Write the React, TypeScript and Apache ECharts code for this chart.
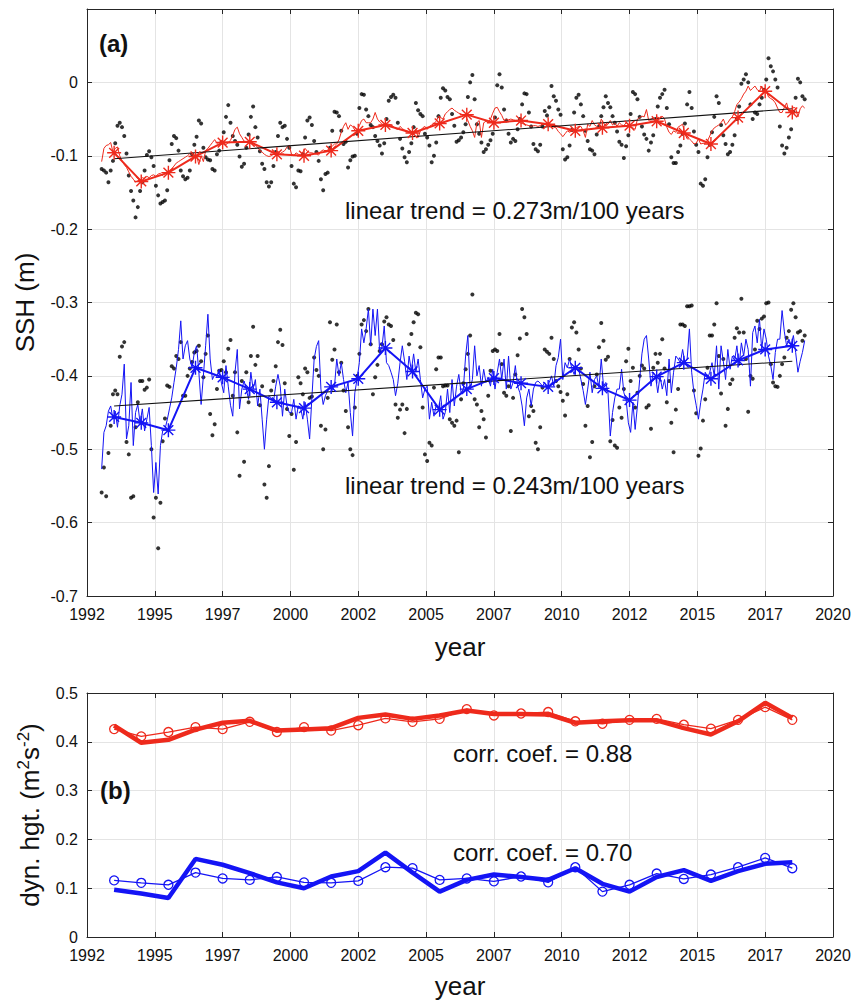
import React, { useEffect, useRef } from "react";
import * as echarts from "echarts";

// ---------- data ----------
const X0 = 1992; // x axis origin (year)
const MONTH_START = 1992.54; // time of first monthly value
const xTickLabels = ["1992", "1995", "1997", "2000", "2002", "2005", "2007", "2010", "2012", "2015", "2017", "2020"];
const annualYears = [1993, 1994, 1995, 1996, 1997, 1998, 1999, 2000, 2001, 2002, 2003, 2004, 2005, 2006, 2007, 2008, 2009, 2010, 2011, 2012, 2013, 2014, 2015, 2016, 2017, 2018];

// (a) upper: monthly dots (black) and monthly thin red line
const redMonthlyDots = [
  -0.118, -0.12, -0.123, -0.136, -0.12, -0.107, -0.083, -0.059, -0.055, -0.061, -0.073, -0.097,
  -0.127, -0.148, -0.161, -0.184, -0.17, -0.148, -0.136, -0.12, -0.099, -0.094, -0.102, -0.114,
  -0.141, -0.154, -0.165, -0.163, -0.161, -0.147, -0.106, -0.084, -0.073, -0.076, -0.093, -0.12,
  -0.128, -0.132, -0.13, -0.12, -0.098, -0.085, -0.074, -0.052, -0.056, -0.089, -0.102, -0.105,
  -0.106, -0.118, -0.12, -0.098, -0.093, -0.082, -0.068, -0.047, -0.031, -0.055, -0.073, -0.08,
  -0.085, -0.101, -0.115, -0.111, -0.089, -0.071, -0.047, -0.033, -0.061, -0.075, -0.094, -0.111,
  -0.118, -0.136, -0.142, -0.136, -0.114, -0.095, -0.073, -0.055, -0.061, -0.059, -0.077, -0.089,
  -0.114, -0.138, -0.143, -0.12, -0.121, -0.098, -0.075, -0.052, -0.048, -0.058, -0.08, -0.095,
  -0.107, -0.132, -0.147, -0.125, -0.123, -0.089, -0.066, -0.04, -0.041, -0.046, -0.066, -0.084,
  -0.081, -0.116, -0.106, -0.101, -0.1, -0.07, -0.035, -0.016, -0.017, -0.037, -0.046, -0.058,
  -0.061, -0.073, -0.08, -0.086, -0.097, -0.083, -0.05, -0.025, -0.02, -0.017, -0.021, -0.055,
  -0.077, -0.09, -0.102, -0.109, -0.095, -0.083, -0.061, -0.028, -0.038, -0.043, -0.046, -0.07,
  -0.075, -0.086, -0.109, -0.1, -0.082, -0.046, -0.021, -0.008, -0.011, -0.02, -0.023, -0.043,
  -0.059, -0.081, -0.079, -0.075, -0.068, -0.057, -0.02, 0.0, 0.01, -0.023, -0.057, -0.07,
  -0.082, -0.095, -0.091, -0.085, -0.079, -0.07, -0.048, -0.004, 0.011, -0.007, -0.037, -0.052,
  -0.07, -0.082, -0.077, -0.08, -0.064, -0.05, -0.03, -0.015, -0.016, -0.041, -0.06, -0.084,
  -0.091, -0.094, -0.085, -0.06, -0.039, -0.045, -0.034, -0.005, -0.019, -0.025, -0.037, -0.044,
  -0.091, -0.105, -0.102, -0.086, -0.065, -0.041, -0.021, -0.017, -0.03, -0.046, -0.066, -0.08,
  -0.091, -0.093, -0.098, -0.071, -0.06, -0.046, -0.034, -0.019, -0.028, -0.034, -0.046, -0.055,
  -0.067, -0.081, -0.085, -0.103, -0.087, -0.072, -0.043, -0.013, -0.016, -0.023, -0.047, -0.06,
  -0.071, -0.077, -0.093, -0.082, -0.072, -0.05, -0.033, -0.021, -0.016, -0.01, -0.035, -0.057,
  -0.102, -0.11, -0.11, -0.095, -0.086, -0.07, -0.056, -0.03, -0.013, -0.035, -0.067, -0.085,
  -0.095, -0.138, -0.141, -0.132, -0.102, -0.085, -0.068, -0.047, -0.019, -0.028, -0.058, -0.072,
  -0.084, -0.098, -0.095, -0.085, -0.072, -0.05, -0.033, -0.002, 0.004, 0.011, 0.0, -0.03,
  -0.05, -0.041, -0.043, -0.03, -0.021, -0.01, 0.004, 0.033, 0.022, 0.015, 0.004, -0.007,
  -0.06, -0.086, -0.097, -0.089, -0.075, -0.064, -0.04, -0.021, 0.005, 0.0, -0.019, -0.023,
];

const redMonthlyLine = [
  -0.108, -0.09, -0.086, -0.085, -0.082, -0.095, -0.09, -0.088, -0.1, -0.107, -0.112, -0.116,
  -0.122, -0.128, -0.132, -0.136, -0.134, -0.133, -0.13, -0.131, -0.128, -0.13, -0.127, -0.126,
  -0.128, -0.125, -0.124, -0.127, -0.123, -0.122, -0.12, -0.118, -0.114, -0.11, -0.108, -0.106,
  -0.104, -0.102, -0.1, -0.097, -0.098, -0.102, -0.1, -0.112, -0.1, -0.108, -0.093, -0.09,
  -0.086, -0.082, -0.078, -0.083, -0.082, -0.079, -0.083, -0.085, -0.082, -0.079, -0.072, -0.064,
  -0.061, -0.07, -0.075, -0.08, -0.082, -0.08, -0.083, -0.085, -0.086, -0.088, -0.093, -0.095,
  -0.098, -0.1, -0.101, -0.1, -0.098, -0.096, -0.094, -0.097, -0.095, -0.093, -0.088, -0.086,
  -0.098, -0.1, -0.096, -0.098, -0.099, -0.095, -0.09, -0.094, -0.096, -0.096, -0.097, -0.098,
  -0.099, -0.094, -0.092, -0.094, -0.092, -0.09, -0.087, -0.084, -0.084, -0.078, -0.068, -0.06,
  -0.055, -0.064, -0.058, -0.06, -0.065, -0.066, -0.059, -0.052, -0.05, -0.055, -0.055, -0.055,
  -0.05, -0.041, -0.05, -0.054, -0.057, -0.058, -0.057, -0.057, -0.058, -0.06, -0.063, -0.064,
  -0.06, -0.063, -0.065, -0.066, -0.068, -0.069, -0.071, -0.064, -0.075, -0.066, -0.062, -0.06,
  -0.064, -0.06, -0.058, -0.056, -0.053, -0.046, -0.048, -0.05, -0.043, -0.04, -0.037, -0.035,
  -0.038, -0.04, -0.042, -0.043, -0.045, -0.046, -0.052, -0.06, -0.066, -0.075, -0.055, -0.052,
  -0.075, -0.055, -0.053, -0.055, -0.05, -0.042, -0.035, -0.034, -0.04, -0.045, -0.052, -0.05,
  -0.051, -0.05, -0.051, -0.052, -0.053, -0.055, -0.056, -0.057, -0.058, -0.059, -0.06, -0.059,
  -0.059, -0.06, -0.059, -0.057, -0.057, -0.056, -0.058, -0.06, -0.061, -0.062, -0.067, -0.07,
  -0.074, -0.07, -0.066, -0.068, -0.066, -0.064, -0.062, -0.06, -0.06, -0.066, -0.075, -0.057,
  -0.06, -0.052, -0.058, -0.06, -0.062, -0.05, -0.055, -0.06, -0.057, -0.052, -0.058, -0.055,
  -0.06, -0.055, -0.058, -0.059, -0.055, -0.058, -0.061, -0.062, -0.064, -0.05, -0.048, -0.046,
  -0.047, -0.037, -0.052, -0.05, -0.049, -0.051, -0.047, -0.05, -0.046, -0.05, -0.061, -0.068,
  -0.071, -0.066, -0.068, -0.061, -0.059, -0.057, -0.07, -0.077, -0.077, -0.08, -0.084, -0.083,
  -0.077, -0.084, -0.083, -0.083, -0.08, -0.073, -0.066, -0.062, -0.06, -0.058, -0.055, -0.05,
  -0.058, -0.055, -0.05, -0.047, -0.04, -0.03, -0.027, -0.022, -0.016, -0.012, -0.005, -0.011,
  -0.008, -0.005, -0.01, -0.012, -0.005, -0.014, -0.012, -0.02, -0.022, -0.024, -0.028, -0.035,
  -0.041, -0.041, -0.034, -0.028, -0.04, -0.04, -0.034, -0.035, -0.047, -0.036, -0.032, -0.035,
];

const redAnnual = [-0.096, -0.135, -0.123, -0.101, -0.082, -0.081, -0.098, -0.1, -0.093, -0.066, -0.058, -0.069, -0.056, -0.044, -0.055, -0.052, -0.057, -0.066, -0.062, -0.059, -0.053, -0.069, -0.084, -0.048, -0.012, -0.041];
const redTrend = [[1993, -0.104], [2018, -0.036]];

// (a) lower: blue
const blueMonthlyDots = [
  -0.559, -0.525, -0.564, -0.505, -0.468, -0.425, -0.42, -0.425, -0.374, -0.36, -0.354, -0.49,
  -0.507, -0.566, -0.564, -0.47, -0.436, -0.407, -0.407, -0.419, -0.416, -0.405, -0.5, -0.593,
  -0.566, -0.635, -0.573, -0.489, -0.458, -0.413, -0.415, -0.387, -0.39, -0.373, -0.377, -0.354,
  -0.427, -0.427, -0.4, -0.39, -0.381, -0.368, -0.366, -0.359, -0.38, -0.402, -0.37, -0.345,
  -0.452, -0.481, -0.466, -0.418, -0.393, -0.392, -0.38, -0.395, -0.363, -0.351, -0.427, -0.395,
  -0.477, -0.536, -0.407, -0.517, -0.395, -0.436, -0.373, -0.333, -0.385, -0.373, -0.44, -0.414,
  -0.548, -0.566, -0.523, -0.42, -0.407, -0.387, -0.354, -0.337, -0.358, -0.41, -0.445, -0.482,
  -0.452, -0.528, -0.49, -0.402, -0.41, -0.425, -0.39, -0.395, -0.43, -0.428, -0.375, -0.392,
  -0.4, -0.468, -0.5, -0.473, -0.43, -0.327, -0.378, -0.364, -0.33, -0.395, -0.382, -0.42,
  -0.448, -0.47, -0.5, -0.508, -0.443, -0.4, -0.37, -0.33, -0.324, -0.339, -0.309, -0.357,
  -0.425, -0.402, -0.385, -0.366, -0.357, -0.326, -0.32, -0.33, -0.332, -0.351, -0.439, -0.457,
  -0.446, -0.439, -0.478, -0.445, -0.357, -0.343, -0.327, -0.314, -0.316, -0.361, -0.443, -0.507,
  -0.516, -0.491, -0.495, -0.416, -0.391, -0.375, -0.375, -0.414, -0.413, -0.413, -0.459, -0.464,
  -0.468, -0.461, -0.504, -0.432, -0.41, -0.391, -0.37, -0.345, -0.289, -0.432, -0.439, -0.47,
  -0.448, -0.459, -0.484, -0.427, -0.393, -0.366, -0.364, -0.366, -0.343, -0.384, -0.423, -0.427,
  -0.414, -0.475, -0.43, -0.398, -0.372, -0.349, -0.309, -0.32, -0.343, -0.455, -0.441, -0.448,
  -0.491, -0.5, -0.47, -0.416, -0.364, -0.367, -0.37, -0.348, -0.377, -0.407, -0.414, -0.422,
  -0.434, -0.454, -0.425, -0.377, -0.334, -0.327, -0.341, -0.364, -0.39, -0.411, -0.468, -0.441,
  -0.511, -0.49, -0.414, -0.398, -0.361, -0.328, -0.352, -0.378, -0.374, -0.489, -0.46, -0.495,
  -0.498, -0.443, -0.457, -0.418, -0.38, -0.363, -0.407, -0.389, -0.443, -0.423, -0.4, -0.386,
  -0.39, -0.443, -0.44, -0.472, -0.389, -0.37, -0.382, -0.37, -0.35, -0.39, -0.436, -0.407,
  -0.464, -0.504, -0.446, -0.418, -0.33, -0.33, -0.332, -0.305, -0.305, -0.304, -0.42, -0.451,
  -0.509, -0.499, -0.461, -0.432, -0.389, -0.345, -0.345, -0.33, -0.301, -0.373, -0.424, -0.377,
  -0.468, -0.445, -0.411, -0.405, -0.348, -0.335, -0.341, -0.295, -0.341, -0.377, -0.449, -0.4,
  -0.404, -0.364, -0.325, -0.336, -0.322, -0.319, -0.301, -0.3, -0.384, -0.409, -0.414, -0.415,
  -0.4, -0.384, -0.375, -0.348, -0.339, -0.31, -0.301, -0.32, -0.341, -0.339, -0.352, -0.345,
];

const blueMonthlyLine = [
  -0.527, -0.477, -0.468, -0.448, -0.441, -0.459, -0.448, -0.47, -0.441, -0.425, -0.384, -0.486,
  -0.468, -0.409, -0.495, -0.45, -0.439, -0.464, -0.445, -0.475, -0.459, -0.443, -0.495, -0.559,
  -0.518, -0.561, -0.495, -0.475, -0.473, -0.46, -0.445, -0.43, -0.409, -0.389, -0.364, -0.325,
  -0.377, -0.359, -0.352, -0.377, -0.389, -0.368, -0.359, -0.395, -0.439, -0.4, -0.359, -0.316,
  -0.377, -0.405, -0.398, -0.401, -0.391, -0.41, -0.423, -0.386, -0.414, -0.44, -0.455, -0.395,
  -0.364, -0.445, -0.418, -0.407, -0.418, -0.432, -0.395, -0.418, -0.405, -0.441, -0.418, -0.459,
  -0.5, -0.459, -0.427, -0.43, -0.435, -0.414, -0.398, -0.414, -0.455, -0.418, -0.441, -0.45,
  -0.45, -0.432, -0.459, -0.441, -0.443, -0.459, -0.436, -0.459, -0.486, -0.43, -0.377, -0.36,
  -0.352, -0.418, -0.439, -0.427, -0.42, -0.415, -0.42, -0.414, -0.377, -0.4, -0.382, -0.405,
  -0.423, -0.409, -0.45, -0.482, -0.423, -0.404, -0.382, -0.336, -0.355, -0.336, -0.309, -0.359,
  -0.309, -0.345, -0.309, -0.368, -0.361, -0.332, -0.382, -0.386, -0.395, -0.405, -0.427, -0.41,
  -0.382, -0.359, -0.38, -0.405, -0.373, -0.393, -0.37, -0.395, -0.377, -0.405, -0.43, -0.418,
  -0.414, -0.459, -0.436, -0.455, -0.44, -0.445, -0.427, -0.459, -0.45, -0.418, -0.45, -0.405,
  -0.441, -0.414, -0.398, -0.423, -0.418, -0.373, -0.345, -0.418, -0.405, -0.359, -0.4, -0.386,
  -0.414, -0.391, -0.409, -0.402, -0.414, -0.391, -0.418, -0.395, -0.377, -0.405, -0.377, -0.418,
  -0.373, -0.418, -0.409, -0.386, -0.414, -0.423, -0.441, -0.468, -0.43, -0.418, -0.441, -0.418,
  -0.409, -0.407, -0.41, -0.414, -0.409, -0.418, -0.409, -0.4, -0.414, -0.386, -0.375, -0.35,
  -0.405, -0.382, -0.389, -0.377, -0.39, -0.398, -0.386, -0.39, -0.405, -0.42, -0.439, -0.418,
  -0.395, -0.423, -0.405, -0.4, -0.416, -0.377, -0.414, -0.409, -0.423, -0.482, -0.45, -0.43,
  -0.418, -0.418, -0.391, -0.423, -0.432, -0.464, -0.477, -0.436, -0.473, -0.441, -0.405, -0.37,
  -0.35, -0.345, -0.377, -0.414, -0.395, -0.4, -0.423, -0.4, -0.418, -0.405, -0.427, -0.377,
  -0.423, -0.395, -0.373, -0.377, -0.382, -0.364, -0.382, -0.377, -0.336, -0.395, -0.423, -0.44,
  -0.459, -0.436, -0.418, -0.395, -0.404, -0.395, -0.382, -0.4, -0.359, -0.418, -0.359, -0.38,
  -0.405, -0.364, -0.391, -0.373, -0.379, -0.359, -0.386, -0.355, -0.373, -0.35, -0.364, -0.414,
  -0.341, -0.332, -0.355, -0.323, -0.364, -0.336, -0.35, -0.373, -0.386, -0.405, -0.368, -0.35,
  -0.35, -0.311, -0.34, -0.359, -0.35, -0.358, -0.345, -0.368, -0.395, -0.38, -0.368, -0.352,
];

const blueAnnual = [-0.456, -0.464, -0.474, -0.389, -0.402, -0.418, -0.436, -0.444, -0.415, -0.404, -0.362, -0.394, -0.446, -0.418, -0.403, -0.41, -0.415, -0.389, -0.417, -0.433, -0.401, -0.382, -0.404, -0.379, -0.364, -0.359];
const blueTrend = [[1993, -0.441], [2018, -0.38]];

// (b) dynamic height
const redDynCircles = [0.426, 0.411, 0.42, 0.43, 0.426, 0.441, 0.42, 0.43, 0.423, 0.434, 0.448, 0.441, 0.447, 0.467, 0.454, 0.458, 0.461, 0.442, 0.437, 0.445, 0.447, 0.435, 0.427, 0.445, 0.471, 0.445];
const redDynThick = [0.433, 0.398, 0.404, 0.425, 0.439, 0.443, 0.423, 0.425, 0.428, 0.449, 0.456, 0.447, 0.454, 0.464, 0.457, 0.457, 0.456, 0.439, 0.442, 0.444, 0.444, 0.428, 0.415, 0.442, 0.48, 0.449];
const blueDynCircles = [0.116, 0.111, 0.107, 0.132, 0.12, 0.117, 0.123, 0.112, 0.111, 0.115, 0.143, 0.141, 0.117, 0.12, 0.114, 0.124, 0.112, 0.143, 0.093, 0.107, 0.13, 0.119, 0.128, 0.143, 0.162, 0.141];
const blueDynThick = [0.097, 0.089, 0.08, 0.16, 0.148, 0.131, 0.112, 0.1, 0.124, 0.135, 0.173, 0.132, 0.093, 0.117, 0.128, 0.123, 0.117, 0.141, 0.109, 0.093, 0.123, 0.137, 0.115, 0.135, 0.15, 0.153];

// ---------- styling ----------
const RED = "#ee2a1c";
const BLUE = "#1414f5";
const FONT = "'Liberation Sans', Arial, Helvetica, sans-serif";
const AXIS_COLOR = "#262626";
const GRID_COLOR = "#e4e4e4";
const ASTERISK = "path://M10 0L10 20M0 10L20 10M3 3L17 17M3 17L17 3";

const monthly = (arr: number[]) => arr.map((v, i) => [MONTH_START + i / 12 - X0, v]);
const annual = (arr: number[]) => arr.map((v, i) => [annualYears[i] - X0, v]);
const pairs = (arr: number[][]) => arr.map((p) => [p[0] - X0, p[1]]);

function xAxisDef(gridIndex: number, position: string, main: boolean, nameGap: number) {
  return {
    type: "value",
    gridIndex,
    position,
    min: 0,
    max: 27.5,
    interval: 2.5,
    name: main ? "year" : "",
    nameLocation: "middle",
    nameGap,
    nameTextStyle: { fontSize: 26, color: "#111", fontFamily: FONT },
    axisLine: { show: true, onZero: false, lineStyle: { color: AXIS_COLOR, width: 1 } },
    axisTick: { show: true, inside: true, length: 5, lineStyle: { color: AXIS_COLOR } },
    axisLabel: {
      show: main,
      margin: 10,
      fontSize: 16,
      color: "#111",
      fontFamily: FONT,
      formatter: (v: number) => xTickLabels[Math.round(v / 2.5)] ?? "",
    },
    splitLine: { show: main, lineStyle: { color: GRID_COLOR, width: 1 } },
  };
}

function yAxisDef(gridIndex: number, position: string, main: boolean, min: number, max: number, name: string, nameGap: number, hideAbove: number) {
  return {
    type: "value",
    gridIndex,
    position,
    min,
    max,
    interval: 0.1,
    name: main ? name : "",
    nameLocation: "middle",
    nameGap,
    nameRotate: 90,
    nameTextStyle: {
      fontSize: 26,
      color: "#111",
      fontFamily: FONT,
      lineHeight: 30,
      rich: {
        sup: { fontSize: 17, color: "#111", fontFamily: FONT, verticalAlign: "top", lineHeight: 17 },
      },
    },
    axisLine: { show: true, onZero: false, lineStyle: { color: AXIS_COLOR, width: 1 } },
    axisTick: { show: true, inside: true, length: 5, lineStyle: { color: AXIS_COLOR } },
    axisLabel: {
      show: main,
      margin: 9,
      fontSize: 16,
      color: "#111",
      fontFamily: FONT,
      formatter: (v: number) => (v > hideAbove ? "" : String(Math.round(v * 10) / 10)),
    },
    splitLine: { show: main, lineStyle: { color: GRID_COLOR, width: 1 } },
  };
}

function buildOption() {
  const dots = (data: number[]) => ({
    type: "scatter",
    xAxisIndex: 0,
    yAxisIndex: 0,
    data: monthly(data),
    symbol: "circle",
    symbolSize: 4,
    itemStyle: { color: "#000" },
    silent: true,
  });
  const thin = (data: number[], color: string) => ({
    type: "line",
    xAxisIndex: 0,
    yAxisIndex: 0,
    data: monthly(data),
    showSymbol: false,
    symbol: "none",
    lineStyle: { color, width: 1 },
    silent: true,
  });
  const annualLine = (data: number[], color: string) => ({
    type: "line",
    xAxisIndex: 0,
    yAxisIndex: 0,
    data: annual(data),
    symbol: ASTERISK,
    symbolSize: 14,
    showAllSymbol: true,
    lineStyle: { color, width: 2 },
    itemStyle: { color, borderColor: color, borderWidth: 1.4 },
    silent: true,
  });
  const trend = (data: number[][]) => ({
    type: "line",
    xAxisIndex: 0,
    yAxisIndex: 0,
    data: pairs(data),
    symbol: "none",
    lineStyle: { color: "#111", width: 1.1 },
    silent: true,
  });
  const thick = (data: number[], color: string) => ({
    type: "line",
    xAxisIndex: 2,
    yAxisIndex: 2,
    data: annual(data),
    symbol: "none",
    lineStyle: { color, width: 4.5 },
    silent: true,
  });
  const circles = (data: number[], color: string) => ({
    type: "line",
    xAxisIndex: 2,
    yAxisIndex: 2,
    data: annual(data),
    symbol: "circle",
    symbolSize: 9,
    showAllSymbol: true,
    lineStyle: { color, width: 1.3 },
    itemStyle: { color: "rgba(255,255,255,0)", borderColor: color, borderWidth: 1.3 },
    silent: true,
  });

  const txt = (x: number, y: number, text: string, size: number, bold = false) => ({
    type: "text",
    x,
    y,
    z: 100,
    silent: true,
    style: {
      text,
      fontSize: size,
      fontWeight: bold ? "bold" : "normal",
      fontFamily: FONT,
      fill: "#111",
      verticalAlign: "middle",
      align: "left",
    },
  });

  return {
    animation: false,
    backgroundColor: "#fff",
    grid: [
      { left: 87, top: 9, width: 746, height: 587 },
      { left: 87, top: 693, width: 746, height: 244 },
    ],
    xAxis: [
      xAxisDef(0, "bottom", true, 38),
      xAxisDef(0, "top", false, 0),
      xAxisDef(1, "bottom", true, 36),
      xAxisDef(1, "top", false, 0),
    ],
    yAxis: [
      yAxisDef(0, "left", true, -0.7, 0.1, "SSH (m)", 45, 0.05),
      yAxisDef(0, "right", false, -0.7, 0.1, "", 0, 1),
      yAxisDef(1, "left", true, 0, 0.5, "dyn. hgt. (m{sup|2}s{sup|-2})", 40, 1),
      yAxisDef(1, "right", false, 0, 0.5, "", 0, 1),
    ],
    series: [
      dots(redMonthlyDots),
      dots(blueMonthlyDots),
      thin(redMonthlyLine, RED),
      thin(blueMonthlyLine, BLUE),
      annualLine(redAnnual, RED),
      annualLine(blueAnnual, BLUE),
      trend(redTrend),
      trend(blueTrend),
      thick(redDynThick, RED),
      thick(blueDynThick, BLUE),
      circles(redDynCircles, RED),
      circles(blueDynCircles, BLUE),
    ],
    graphic: [
      txt(99, 43, "(a)", 24, true),
      txt(100, 790, "(b)", 24, true),
      txt(345, 210, "linear trend = 0.273m/100 years", 24),
      txt(345, 485, "linear trend = 0.243m/100 years", 24),
      txt(453, 753, "corr. coef. = 0.88", 24),
      txt(453, 852, "corr. coef. = 0.70", 24),
    ],
  };
}

export default function App() {
  const ref = useRef<HTMLDivElement>(null);
  useEffect(() => {
    if (!ref.current) return;
    const chart = echarts.init(ref.current, undefined, { renderer: "svg" });
    chart.setOption(buildOption() as any);
    return () => chart.dispose();
  }, []);
  return (
    <div
      ref={ref}
      style={{ position: "absolute", left: 0, top: 0, width: 858, height: 1002, background: "#fff" }}
    />
  );
}
